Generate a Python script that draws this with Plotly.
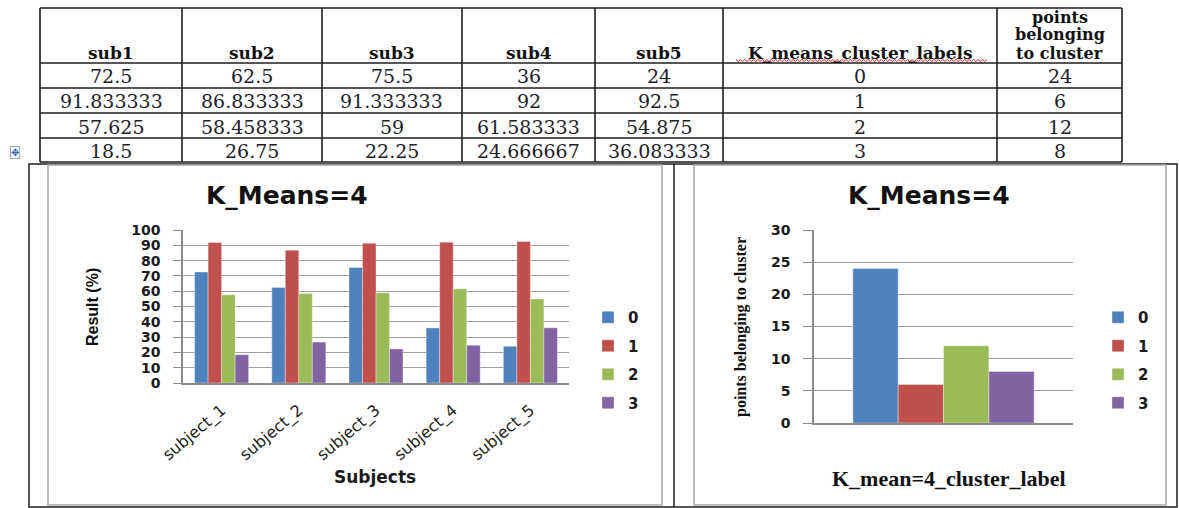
import plotly.graph_objects as go

W, H = 1179, 508

# ---- data -------------------------------------------------------------
subjects = ["subject_1", "subject_2", "subject_3", "subject_4", "subject_5"]
sub1 = [72.5, 91.833333, 57.625, 18.5]
sub2 = [62.5, 86.833333, 58.458333, 26.75]
sub3 = [75.5, 91.333333, 59, 22.25]
sub4 = [36, 92, 61.583333, 24.666667]
sub5 = [24, 92.5, 54.875, 36.083333]
cluster_labels = [0, 1, 2, 3]
points_per_cluster = [24, 6, 12, 8]
table_headers = ["sub1", "sub2", "sub3", "sub4", "sub5",
                 "K_means_cluster_labels", "points<br>belonging<br>to cluster"]
cluster_colors = ["#4F81BD", "#C0504D", "#9BBB59", "#8064A2"]

subject_cols = [sub1, sub2, sub3, sub4, sub5]


def fx(x):
    return x / W


def fy(y):
    return 1 - y / H


def fmt(v):
    return f"{v:.6f}".rstrip("0").rstrip(".")


fig = go.Figure()

# ---- bar traces ---------------------------------------------------------
for k in cluster_labels:
    fig.add_trace(go.Bar(
        x=subjects, y=[col[k] for col in subject_cols], name=str(k),
        marker=dict(color=cluster_colors[k], line=dict(color="rgba(255,255,255,0.45)", width=0.8)),
        xaxis="x", yaxis="y", legend="legend", legendgroup=f"left{k}",
        hoverinfo="x+y+name",
    ))
for k in cluster_labels:
    fig.add_trace(go.Bar(
        x=["4"], y=[points_per_cluster[k]], name=str(k),
        marker=dict(color=cluster_colors[k], line=dict(color="rgba(255,255,255,0.45)", width=0.8)),
        xaxis="x2", yaxis="y2", legend="legend2", legendgroup=f"right{k}",
        hoverinfo="y+name",
    ))

shapes = []
annotations = []

# ---- table ---------------------------------------------------------------
col_edges = [40, 182, 322, 462, 595, 723, 997, 1122]
row_edges = [8, 63, 88, 113, 138, 162]
line_col = "#1e1e1e"
for x in col_edges:
    shapes.append(dict(type="line", xref="paper", yref="paper",
                       x0=fx(x), x1=fx(x), y0=fy(row_edges[0]), y1=fy(row_edges[-1]),
                       line=dict(color=line_col, width=1.6)))
for y in row_edges:
    shapes.append(dict(type="line", xref="paper", yref="paper",
                       x0=fx(col_edges[0]), x1=fx(col_edges[-1]), y0=fy(y), y1=fy(y),
                       line=dict(color=line_col, width=1.6)))

centers = [(col_edges[i] + col_edges[i + 1]) / 2 for i in range(len(col_edges) - 1)]
for i, h in enumerate(table_headers):
    lines = h.split("<br>")
    # header text sits at the bottom of its cell, one line every 18 px upwards
    for j, line in enumerate(reversed(lines)):
        annotations.append(dict(x=fx(centers[i]), y=fy(53 - 18 * j), xref="paper", yref="paper",
                                text=f"<b>{line}</b>", showarrow=False,
                                xanchor="center", yanchor="middle",
                                font=dict(family="DejaVu Serif", size=17 if len(lines) == 1 else 16,
                                          color="#111")))

row_centers = [(row_edges[i] + row_edges[i + 1]) / 2 for i in range(1, len(row_edges) - 1)]
for r, yc in enumerate(row_centers):
    cells = [fmt(col[r]) for col in subject_cols] + [str(cluster_labels[r]), str(points_per_cluster[r])]
    for i, t in enumerate(cells):
        annotations.append(dict(x=fx(centers[i]), y=fy(yc + 1), xref="paper", yref="paper",
                                text=t, showarrow=False, xanchor="center", yanchor="middle",
                                font=dict(family="DejaVu Serif", size=19, color="#1c1c2a")))

# spell-check squiggle under the cluster-label header
zig = []
x = 736.0
up = True
while x <= 987:
    zig.append((x, 59.5 if up else 61.5))
    up = not up
    x += 2.2
path = "M " + " L ".join(f"{fx(a):.5f},{fy(b):.5f}" for a, b in zig)
shapes.append(dict(type="path", xref="paper", yref="paper", path=path,
                   line=dict(color="#e02020", width=1)))

# table move handle
annotations.append(dict(x=fx(15), y=fy(152), xref="paper", yref="paper", text="✥",
                        showarrow=False, xanchor="center", yanchor="middle",
                        font=dict(family="DejaVu Sans", size=10, color="#2f5fb0"),
                        bordercolor="#9ab", borderwidth=1, borderpad=0, bgcolor="#f4f8ff"))

# ---- chart containers --------------------------------------------------------
shapes.append(dict(type="rect", xref="paper", yref="paper",
                   x0=fx(29), x1=fx(1177), y0=fy(507), y1=fy(164),
                   line=dict(color="#1e1e1e", width=1.5)))
shapes.append(dict(type="line", xref="paper", yref="paper",
                   x0=fx(674), x1=fx(674), y0=fy(507), y1=fy(164),
                   line=dict(color="#1e1e1e", width=1.5)))
for x0, x1 in [(48, 662), (694, 1166)]:
    shapes.append(dict(type="rect", xref="paper", yref="paper",
                       x0=fx(x0), x1=fx(x1), y0=fy(505), y1=fy(165),
                       line=dict(color="#a8a8a8", width=1.5)))

# ---- chart texts -------------------------------------------------------------
title_font = dict(family="DejaVu Sans", size=25, color="#111")
chart_texts = [
    dict(x=fx(287), y=fy(195), text="<b>K_Means=4</b>", font=title_font),
    dict(x=fx(929), y=fy(195), text="<b>K_Means=4</b>", font=title_font),
    dict(x=fx(375), y=fy(477), text="<b>Subjects</b>",
         font=dict(family="DejaVu Sans", size=17, color="#1a1a1a")),
    dict(x=fx(92), y=fy(307), text="<b>Result (%)</b>", textangle=-90,
         font=dict(family="Liberation Sans Narrow, Arial Narrow, Liberation Sans", size=16, color="#111")),
    dict(x=fx(741), y=fy(327), text="<b>points belonging to cluster</b>", textangle=-90,
         font=dict(family="Liberation Serif, Times New Roman", size=16, color="#111")),
    dict(x=fx(949), y=fy(478), text="<b>K_mean=4_cluster_label</b>",
         font=dict(family="Liberation Serif, Times New Roman", size=22, color="#111")),
]
for a in chart_texts:
    a.update(xref="paper", yref="paper", showarrow=False, xanchor="center", yanchor="middle")
annotations += chart_texts

grid_col = "#a0a0a0"
axis_col = "#8a8a8a"
tick_font = dict(family="DejaVu Sans", size=14, color="#1a1a1a", weight="bold")
legend_font = dict(family="DejaVu Sans", size=15, color="#1a1a1a", weight="bold")

fig.update_layout(
    template="none",
    width=W, height=H,
    margin=dict(l=0, r=0, t=0, b=0, autoexpand=False),
    paper_bgcolor="white", plot_bgcolor="white",
    barmode="group", bargap=0.3, bargroupgap=0,
    xaxis=dict(domain=[fx(183), fx(569)], anchor="y", showline=True, linecolor=axis_col,
               linewidth=1.5, showgrid=False, ticks="", tickangle=-40, automargin=False,
               ticklabelstandoff=10,
               tickfont=dict(family="DejaVu Sans", size=16, color="#222")),
    yaxis=dict(domain=[fy(383), fy(230)], anchor="x", range=[0, 100], dtick=10,
               showgrid=True, gridcolor=grid_col, gridwidth=1.3, zeroline=False,
               showline=True, linecolor=axis_col, linewidth=1.5, automargin=False,
               ticks="outside", ticklen=8, tickcolor=axis_col, tickwidth=1.3,
               ticklabelstandoff=10, tickfont=tick_font),
    xaxis2=dict(domain=[fx(814), fx(1073)], anchor="y2", showline=True, linecolor=axis_col,
                linewidth=1.5, showgrid=False, ticks="", showticklabels=False, automargin=False),
    yaxis2=dict(domain=[fy(423), fy(230)], anchor="x2", range=[0, 30], dtick=5,
                showgrid=True, gridcolor=grid_col, gridwidth=1.3, zeroline=False,
                showline=True, linecolor=axis_col, linewidth=1.5, automargin=False,
                ticks="outside", ticklen=9, tickcolor=axis_col, tickwidth=1.3,
                ticklabelstandoff=10, tickfont=tick_font),
    legend=dict(x=fx(588), y=fy(301), xanchor="left", yanchor="top", font=legend_font,
                tracegroupgap=6, bgcolor="rgba(0,0,0,0)", itemclick=False, itemdoubleclick=False),
    legend2=dict(x=fx(1098), y=fy(301), xanchor="left", yanchor="top", font=legend_font,
                 tracegroupgap=6, bgcolor="rgba(0,0,0,0)", itemclick=False, itemdoubleclick=False),
    shapes=shapes,
    annotations=annotations,
    showlegend=True,
)

fig.write_html("out.html")
